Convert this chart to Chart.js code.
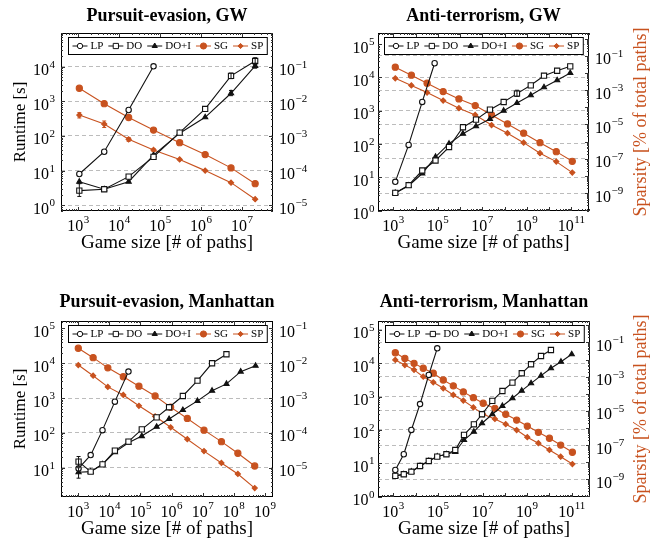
<!DOCTYPE html>
<html>
<head>
<meta charset="utf-8">
<script src="https://cdn.jsdelivr.net/npm/chart.js@4.4.0/dist/chart.umd.min.js"></script>
<style>
  html, body { margin: 0; padding: 0; background: #fff; }
  body { width: 650px; height: 544px; position: relative; overflow: hidden; }
  canvas { position: absolute; }
</style>
</head>
<body>
<canvas id="peGw" width="335" height="272" style="left:0;top:0"></canvas>
<canvas id="atGw" width="315" height="272" style="left:335px;top:0"></canvas>
<canvas id="peMan" width="335" height="272" style="left:0;top:272px"></canvas>
<canvas id="atMan" width="315" height="272" style="left:335px;top:272px"></canvas>
<script>
// Pursuit-evasion, GW
const peGwSizes = [1.06e3, 4.3e3, 1.7e4, 6.9e4, 3.0e5, 1.26e6, 5.4e6, 2.1e7];
const peGwLP = [8, 35, 560, 10200];
const peGwDO = [2.65, 2.9, 6.7, 25, 125, 600, 5400, 14500];
const peGwDOI = [4.8, 2.9, 4.8, 28, 120, 345, 1700, 10500];
const peGwSG = [0.0237, 0.0085, 0.0034, 0.00148, 6.4e-4, 2.9e-4, 1.2e-4, 4.2e-5];
const peGwSP = [4.0e-3, 2.2e-3, 8.0e-4, 3.95e-4, 2.1e-4, 1.0e-4, 4.5e-5, 1.5e-5];
const peGwDOErr = [[1.8, 4.2], null, null, null, null, null, [4500, 6500], [11500, 18000]];
const peGwDOIErr = [null, null, null, null, null, null, [1450, 2050], [9000, 12500]];
const peGwSPErr = [[3.3e-3, 4.7e-3], [1.75e-3, 2.7e-3], [7e-4, 9e-4], [3.6e-4, 4.3e-4]];

// Anti-terrorism, GW
const atGwLPSizes = [1.23e3, 4.9e3, 2.0e4, 7.2e4];
const atGwLP = [7.3, 94, 1830, 26500];
const atGwDOSizes = [1.23e3, 4.9e3, 2.0e4, 7.9e4, 3.2e5, 1.35e6, 5.2e6, 2.2e7, 9.1e7, 3.6e8, 1.5e9, 5.9e9, 2.3e10, 8.9e10];
const atGwDO = [3.4, 5.8, 16, 32, 81, 318, 540, 1070, 1820, 3240, 5760, 11200, 15800, 21400];
const atGwDOI = [3.4, 5.6, 13, 41, 102, 204, 340, 565, 1000, 1700, 2900, 5040, 8150, 13500];
const atGwSGSizes = [1.23e3, 6.5e3, 3.3e4, 1.74e5, 8.9e5, 4.8e6, 2.6e7, 1.35e8, 7.2e8, 3.9e9, 2.1e10, 1.1e11];
const atGwSG = [0.0221, 0.0076, 0.0026, 8.4e-4, 3.1e-4, 1.28e-4, 3.6e-5, 1.08e-5, 3.1e-6, 8.7e-7, 2.6e-7, 7.1e-8];
const atGwSP = [5.0e-3, 1.9e-3, 7.3e-4, 2.5e-4, 8.9e-5, 3.6e-5, 9.3e-6, 3.1e-6, 8.7e-7, 2.1e-7, 6.8e-8, 1.55e-8];
const atGwDOErr = [null, null, null, null, null, null, null, null, null, [2700, 4100]];

// Pursuit-evasion, Manhattan
const peManSizes = [1.02e3, 2.5e3, 6.0e3, 1.5e4, 4.1e4, 1.1e5, 3.3e5, 8.3e5, 2.3e6, 6.8e6, 2.0e7, 5.8e7, 1.66e8, 5.0e8];
const peManLP = [9.5, 23, 120, 790, 5760];
const peManDO = [15, 7.7, 12.5, 31, 56, 126, 280, 545, 1150, 3160, 10000, 18200];
const peManDOI = [7.4, 7.7, 12.5, 28, 52, 81, 150, 250, 455, 830, 1630, 2560, 5760, 8500];
const peManSGSizes = [1.0e3, 3.0e3, 8.9e3, 2.8e4, 8.9e4, 2.95e5, 9.3e5, 3.2e6, 1.1e7, 4.0e7, 1.35e8, 4.7e8];
const peManSG = [0.027, 0.0145, 0.0074, 0.0041, 0.0022, 0.00115, 5.5e-4, 2.6e-4, 1.2e-4, 5.6e-5, 2.6e-5, 1.12e-5];
const peManSP = [0.0089, 0.0044, 0.0021, 0.00123, 6.0e-4, 3.0e-4, 1.45e-4, 6.6e-5, 3.0e-5, 1.37e-5, 6.6e-6, 2.6e-6];
const peManDOErr = [[11, 21]];
const peManDOIErr = [[5, 10]];

// Anti-terrorism, Manhattan
const atManSizes = [1.23e3, 2.95e3, 6.46e3, 1.58e4, 3.89e4, 9.33e4, 2.4e5, 6.0e5, 1.48e6, 4.1e6, 9.5e6,
  2.75e7, 7.8e7, 2.2e8, 5.75e8, 1.5e9, 4.2e9, 1.17e10, 3.3e10, 1.0e11];
const atManLP = [6.3, 18.7, 100, 600, 4470, 28200];
const atManDO = [4.2, 4.7, 5.6, 8.3, 11.7, 15.9, 18.7, 25, 71, 148, 296, 745, 1480, 2640, 5020, 9350, 16600, 25100];
const atManDOI = [4.2, 4.7, 5.6, 8.3, 11.7, 15.9, 18.7, 22, 50, 89, 159, 296, 525, 895, 1510, 2510, 4270, 7100, 11200, 18700];
const atManSGSizes = [1.23e3, 3.3e3, 8.5e3, 2.2e4, 6.2e4, 1.74e5, 4.9e5, 1.38e6, 3.9e6, 1.07e7, 3.6e7, 1.1e8,
  3.4e8, 1.02e9, 3.2e9, 1.0e10, 3.2e10, 1.07e11];
const atManSG = [0.025, 0.0117, 0.006, 0.0031, 0.0016, 6.4e-4, 2.9e-4, 1.29e-4, 5.9e-5, 2.8e-5, 1.4e-5, 6.3e-6,
  2.9e-6, 1.3e-6, 5.6e-7, 2.5e-7, 1.0e-7, 3.8e-8];
const atManSP = [0.0095, 0.0048, 0.0025, 1.0e-3, 4.7e-4, 2.1e-4, 8.5e-5, 4.0e-5, 1.6e-5, 6.3e-6, 3.4e-6, 1.66e-6,
  7.6e-7, 2.9e-7, 1.29e-7, 5.2e-8, 2.1e-8, 7.8e-9];

const BLACK = '#111';
const ORANGE = '#c8521f';
const SERIF = '"Liberation Serif", "DejaVu Serif", serif';

const STYLES = {
  'LP':   { color: BLACK,  fill: '#fff', shape: 'circle',   r: 2.7 },
  'DO':   { color: BLACK,  fill: '#fff', shape: 'rect',     r: 3.7 },
  'DO+I': { color: BLACK,  fill: BLACK,  shape: 'triangle', r: 3 },
  'SG':   { color: ORANGE, fill: ORANGE, shape: 'circle',   r: 3.1 },
  'SP':   { color: ORANGE, fill: ORANGE, shape: 'rectRot',  r: 2.6 }
};

function points(xs, ys) {
  return ys.map((y, i) => ({ x: xs[i], y }));
}

function dataset(label, xs, ys, axis, err) {
  const s = STYLES[label];
  return {
    label, data: points(xs, ys), yAxisID: axis,
    borderColor: s.color, backgroundColor: s.fill, borderWidth: 1.1, tension: 0,
    pointStyle: s.shape, pointRadius: s.r, pointBorderColor: s.color,
    pointBackgroundColor: s.fill, pointBorderWidth: 1.1, errBars: err || null
  };
}

function logScale(range, exps, position) {
  return {
    type: 'logarithmic', position, min: range[0], max: range[1],
    afterBuildTicks: s => { s.ticks = exps.map(e => ({ value: Math.pow(10, e) })); },
    afterFit: s => { if (position === 'bottom') s.height = 0; else s.width = 0; },
    ticks: { display: false },
    grid: { display: position !== 'bottom', drawTicks: false, color: '#bcbcbc', lineWidth: 1 },
    border: { display: false, dash: [4, 3] }
  };
}

// "10" with a raised exponent, like the TeX labels
function powLabel(ctx, e, x, y, align) {
  const ex = e < 0 ? '\u2212' + (-e) : String(e);
  ctx.font = '16px ' + SERIF;
  const wb = ctx.measureText('10').width;
  ctx.font = '11px ' + SERIF;
  const we = ctx.measureText(ex).width;
  const w = wb + we + 0.5;
  const x0 = align === 'right' ? x - w : align === 'center' ? x - w / 2 : x;
  ctx.textAlign = 'left';
  ctx.textBaseline = 'alphabetic';
  ctx.font = '16px ' + SERIF;
  ctx.fillText('10', x0, y);
  ctx.font = '11px ' + SERIF;
  ctx.fillText(ex, x0 + wb + 0.5, y - 7.5);
}

function edgeTicks(ctx, s, a, side) {
  const lo = Math.floor(Math.log10(s.min)), hi = Math.ceil(Math.log10(s.max));
  ctx.beginPath();
  for (let d = lo; d <= hi; d++) {
    for (let m = 1; m < 10; m++) {
      const v = m * Math.pow(10, d);
      if (v <= s.min || v >= s.max) continue;
      const p = Math.round(s.getPixelForValue(v)) + 0.5;
      const len = m === 1 ? 4 : 2;
      if (side === 'x') {
        ctx.moveTo(p, a.bottom); ctx.lineTo(p, a.bottom - len);
        ctx.moveTo(p, a.top); ctx.lineTo(p, a.top + len);
      } else if (side === 'left') {
        ctx.moveTo(a.left, p); ctx.lineTo(a.left + len, p);
      } else {
        ctx.moveTo(a.right, p); ctx.lineTo(a.right - len, p);
      }
    }
  }
  ctx.stroke();
}

function rotatedText(ctx, text, x, y) {
  ctx.save();
  ctx.translate(x, y);
  ctx.rotate(-Math.PI / 2);
  ctx.textAlign = 'center';
  ctx.textBaseline = 'alphabetic';
  ctx.fillText(text, 0, 0);
  ctx.restore();
}

function drawLegend(chart) {
  const ctx = chart.ctx, a = chart.chartArea;
  ctx.font = '11px ' + SERIF;
  const sym = 15, gapText = 3, gapItem = 5, pad = 4, h = 17;
  const items = chart.data.datasets.map(ds => ({ ds, w: ctx.measureText(ds.label).width }));
  const total = pad * 2 + items.reduce((t, it) => t + sym + gapText + it.w, 0) + gapItem * (items.length - 1);
  const x0 = Math.round((a.left + a.right) / 2 - total / 2) + 0.5;
  const y0 = a.top + 4.5;
  ctx.fillStyle = '#fff';
  ctx.fillRect(x0, y0, total, h);
  ctx.strokeStyle = '#000';
  ctx.lineWidth = 1;
  ctx.strokeRect(x0, y0, total, h);
  let x = x0 + pad;
  const cy = y0 + h / 2;
  items.forEach(it => {
    const ds = it.ds;
    ctx.strokeStyle = ds.borderColor;
    ctx.beginPath();
    ctx.moveTo(x, cy);
    ctx.lineTo(x + sym, cy);
    ctx.stroke();
    ctx.fillStyle = ds.pointBackgroundColor;
    Chart.helpers.drawPoint(ctx, { pointStyle: ds.pointStyle, radius: ds.pointRadius, borderWidth: 1, rotation: 0 }, x + sym / 2, cy);
    x += sym + gapText;
    ctx.fillStyle = '#000';
    ctx.textAlign = 'left';
    ctx.textBaseline = 'middle';
    ctx.fillText(ds.label, x, cy + 0.5);
    x += it.w + gapItem;
  });
}

const pgfAxes = {
  id: 'pgf',
  afterDatasetsDraw(chart) {
    const ctx = chart.ctx;
    ctx.save();
    ctx.lineWidth = 1;
    chart.data.datasets.forEach(ds => {
      if (!ds.errBars) return;
      const xs = chart.scales.x, ys = chart.scales[ds.yAxisID];
      ds.errBars.forEach((r, i) => {
        if (!r) return;
        const px = xs.getPixelForValue(ds.data[i].x);
        const top = ys.getPixelForValue(r[1]), bot = ys.getPixelForValue(r[0]);
        ctx.strokeStyle = ds.borderColor;
        ctx.beginPath();
        ctx.moveTo(px, top); ctx.lineTo(px, bot);
        ctx.moveTo(px - 2, top); ctx.lineTo(px + 2, top);
        ctx.moveTo(px - 2, bot); ctx.lineTo(px + 2, bot);
        ctx.stroke();
      });
    });
    ctx.restore();
  },
  afterDraw(chart, args, o) {
    const { ctx, chartArea: a, scales } = chart;
    ctx.save();
    ctx.setLineDash([]);
    ctx.strokeStyle = '#000';
    ctx.lineWidth = 1;
    ctx.strokeRect(a.left + 0.5, a.top + 0.5, a.right - a.left - 1, a.bottom - a.top - 1);
    ctx.strokeStyle = '#333';
    edgeTicks(ctx, scales.x, a, 'x');
    edgeTicks(ctx, scales.y, a, 'left');
    edgeTicks(ctx, scales.y2, a, 'right');

    ctx.fillStyle = '#000';
    const exp = t => Math.round(Math.log10(t.value));
    scales.x.ticks.forEach(t => powLabel(ctx, exp(t), scales.x.getPixelForValue(t.value), a.bottom + 19.5, 'center'));
    scales.y.ticks.forEach(t => powLabel(ctx, exp(t), a.left - o.yGap, scales.y.getPixelForValue(t.value) + 8.5, 'right'));
    scales.y2.ticks.forEach(t => powLabel(ctx, exp(t), a.right + 6, scales.y2.getPixelForValue(t.value) + 8.5, 'left'));

    const cx = (a.left + a.right) / 2, cy = (a.top + a.bottom) / 2;
    ctx.textAlign = 'center';
    ctx.textBaseline = 'alphabetic';
    ctx.font = 'bold 18px ' + SERIF;
    ctx.fillText(o.title, cx, o.titleY);
    ctx.font = '19px ' + SERIF;
    ctx.fillText('Game size [# of paths]', cx, a.bottom + 37);
    if (o.yTitle) {
      ctx.font = '17px ' + SERIF;
      rotatedText(ctx, o.yTitle, 24.5, cy);
    }
    if (o.y2Title) {
      ctx.font = '18px ' + SERIF;
      ctx.fillStyle = ORANGE;
      rotatedText(ctx, o.y2Title, 310.5, cy);
    }
    drawLegend(chart);
    ctx.restore();
  }
};

function buildChart(id, cfg) {
  return new Chart(document.getElementById(id), {
    type: 'line',
    data: { datasets: cfg.datasets },
    options: {
      responsive: false,
      animation: false,
      events: [],
      layout: { padding: cfg.padding },
      plugins: {
        legend: { display: false },
        title: { display: false },
        tooltip: { enabled: false },
        pgf: cfg.labels
      },
      scales: {
        x: logScale(cfg.xRange, cfg.xExp, 'bottom'),
        y: logScale(cfg.yRange, cfg.yExp, 'left'),
        y2: logScale(cfg.y2Range, cfg.y2Exp, 'right')
      }
    },
    plugins: [pgfAxes]
  });
}

buildChart('peGw', {
  datasets: [
    dataset('LP', peGwSizes, peGwLP, 'y'),
    dataset('DO', peGwSizes, peGwDO, 'y', peGwDOErr),
    dataset('DO+I', peGwSizes, peGwDOI, 'y', peGwDOIErr),
    dataset('SG', peGwSizes, peGwSG, 'y2'),
    dataset('SP', peGwSizes, peGwSP, 'y2', peGwSPErr)
  ],
  padding: { left: 61, right: 62, top: 33, bottom: 61 },
  xRange: [378, 5.73e7], xExp: [3, 4, 5, 6, 7],
  yRange: [0.685, 9.3e4], yExp: [0, 1, 2, 3, 4],
  y2Range: [6.85e-6, 0.93], y2Exp: [-5, -4, -3, -2, -1],
  labels: { title: 'Pursuit-evasion, GW', titleY: 21, yTitle: 'Runtime [s]', yGap: 6 }
});

buildChart('atGw', {
  datasets: [
    dataset('LP', atGwLPSizes, atGwLP, 'y'),
    dataset('DO', atGwDOSizes, atGwDO, 'y', atGwDOErr),
    dataset('DO+I', atGwDOSizes, atGwDOI, 'y'),
    dataset('SG', atGwSGSizes, atGwSG, 'y2'),
    dataset('SP', atGwSGSizes, atGwSP, 'y2')
  ],
  padding: { left: 43, right: 61, top: 33, bottom: 61 },
  xRange: [206, 6.2e11], xExp: [3, 5, 7, 9, 11],
  yRange: [0.975, 2.14e5], yExp: [0, 1, 2, 3, 4, 5],
  y2Range: [8.9e-11, 2.2], y2Exp: [-9, -7, -5, -3, -1],
  labels: { title: 'Anti-terrorism, GW', titleY: 21, y2Title: 'Sparsity [% of total paths]', yGap: 3.5 }
});

buildChart('peMan', {
  datasets: [
    dataset('LP', peManSizes, peManLP, 'y'),
    dataset('DO', peManSizes, peManDO, 'y', peManDOErr),
    dataset('DO+I', peManSizes, peManDOI, 'y', peManDOIErr),
    dataset('SG', peManSGSizes, peManSG, 'y2'),
    dataset('SP', peManSGSizes, peManSP, 'y2')
  ],
  padding: { left: 61, right: 62, top: 49, bottom: 47 },
  xRange: [278, 1.82e9], xExp: [3, 4, 5, 6, 7, 8, 9],
  yRange: [1.44, 1.64e5], yExp: [1, 2, 3, 4, 5],
  y2Range: [1.44e-6, 0.164], y2Exp: [-5, -4, -3, -2, -1],
  labels: { title: 'Pursuit-evasion, Manhattan', titleY: 35, yTitle: 'Runtime [s]', yGap: 6 }
});

buildChart('atMan', {
  datasets: [
    dataset('LP', atManSizes, atManLP, 'y'),
    dataset('DO', atManSizes, atManDO, 'y'),
    dataset('DO+I', atManSizes, atManDOI, 'y'),
    dataset('SG', atManSGSizes, atManSG, 'y2'),
    dataset('SP', atManSGSizes, atManSP, 'y2')
  ],
  padding: { left: 43, right: 60, top: 49, bottom: 47 },
  xRange: [206, 6.6e11], xExp: [3, 5, 7, 9, 11],
  yRange: [0.975, 1.86e5], yExp: [0, 1, 2, 3, 4, 5],
  y2Range: [9.2e-11, 1.8], y2Exp: [-9, -7, -5, -3, -1],
  labels: { title: 'Anti-terrorism, Manhattan', titleY: 35, y2Title: 'Sparsity [% of total paths]', yGap: 3.5 }
});
</script>
</body>
</html>
